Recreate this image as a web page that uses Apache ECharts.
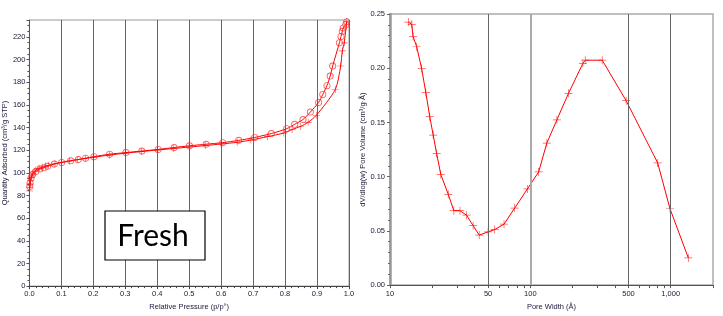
<!DOCTYPE html>
<html>
<head>
<meta charset="utf-8">
<script src="https://cdn.jsdelivr.net/npm/echarts@6/dist/echarts.min.js"></script>
<style>
  html, body { margin: 0; padding: 0; background: #fff; }
  #main { width: 723px; height: 316px; }
</style>
</head>
<body>
<div id="main"></div>
<script>
  // isotherm: [p/p0, quantity adsorbed]
  var adsorption = [
    [0.0005, 84], [0.001, 87], [0.002, 90], [0.004, 93.5], [0.006, 96], [0.008, 98],
    [0.01, 99.3], [0.015, 101.2], [0.02, 102.5], [0.03, 104], [0.04, 105], [0.05, 106],
    [0.06, 106.7], [0.08, 108], [0.1, 109.2], [0.125, 110.5], [0.15, 111.6], [0.175, 112.7],
    [0.2, 113.8], [0.25, 115.7], [0.3, 117.4], [0.35, 118.8], [0.4, 120.2], [0.45, 121.5],
    [0.5, 122.8], [0.55, 124.1], [0.6, 125.5], [0.65, 127], [0.693, 129], [0.745, 132],
    [0.796, 135.2], [0.822, 138.3], [0.848, 141], [0.872, 144.6], [0.898, 150.9],
    [0.957, 173.6], [0.974, 194.4], [0.979, 207.7], [0.985, 214.8], [0.993, 233.5]
  ];
  var desorption = [
    [0.993, 233.5], [0.99, 231], [0.982, 228], [0.979, 225], [0.975, 220.5], [0.97, 215],
    [0.949, 194.4], [0.941, 185.5], [0.931, 177], [0.918, 169.3], [0.905, 162.2],
    [0.879, 153.7], [0.856, 147.1], [0.83, 142.9], [0.805, 139], [0.757, 134.7],
    [0.705, 131.3], [0.655, 128.7], [0.605, 126.7], [0.553, 125.3], [0.501, 123.9],
    [0.453, 122.4], [0.403, 120.7], [0.352, 119.3], [0.302, 117.9], [0.251, 116.5],
    [0.202, 114.3], [0.176, 113], [0.153, 111.8], [0.129, 110.6], [0.101, 109.2],
    [0.078, 107.8], [0.057, 105.8], [0.046, 104.6], [0.033, 103.4], [0.02, 101.2],
    [0.01, 98.5], [0.005, 95.5], [0.002, 91], [0.001, 88]
  ];
  // pore size distribution: [pore width (A), dV/dlog(w)]
  var poreWidth = [13.5, 14.3, 14.6, 15.5, 16.8, 18.0, 19.2, 20.3, 21.5, 23.0, 26.0, 28.5,
    31.5, 35.1, 39.1, 43.2, 50, 55.7, 64.9, 77.3, 95.3, 114.6, 131, 154.5, 187, 236.6, 246,
    325, 481, 807, 988, 1334];
  var poreVolume = [0.2426, 0.2405, 0.2292, 0.2198, 0.1997, 0.1775, 0.1553, 0.1384, 0.1213,
    0.1021, 0.0837, 0.0686, 0.0686, 0.0645, 0.0548, 0.0461, 0.0491, 0.0512, 0.0562, 0.071,
    0.0887, 0.1044, 0.131, 0.1524, 0.1769, 0.2044, 0.2074, 0.2074, 0.1701, 0.1127, 0.0704,
    0.0251];
  var poreLabelTicks = [10, 50, 100, 500, 1000];
  var poreMinorTicks = [10, 20, 30, 40, 50, 60, 70, 80, 90, 100, 200, 300, 400, 500, 600,
    700, 800, 900, 1000, 2000];
  var poreGridThin = [50, 500, 1000];
  var poreGridThick = [100];

  var PLUS = 'path://M0,4.55H10V5.45H0ZM4.55,0H5.45V10H4.55Z';
  var RING = 'path://M5,0A5,5 0 1,1 4.99,0ZM5,1.3A3.7,3.7 0 1,0 5.01,1.3Z';
  var red = '#ff0000';
  var labelStyle = { color: '#1a1a3a', fontSize: 7.5, fontFamily: 'Liberation Sans' };
  var nameStyle = { color: '#1a1a3a', fontSize: 7.5, fontFamily: 'Liberation Sans' };

  var poreData = poreWidth.map(function (w, i) { return [w, poreVolume[i]]; });

  var myChart = echarts.init(document.getElementById('main'));
  var option = {
    backgroundColor: '#fff',
    animation: false,
    grid: [
      { left: 27, right: 374, top: 20, bottom: 21, show: true, borderColor: '#999', borderWidth: 1 },
      { left: 390, right: 10, top: 14, bottom: 20, show: true, borderColor: '#aaa', borderWidth: 1.5 }
    ],
    xAxis: [{
      gridIndex: 0,
      type: 'value',
      min: 0, max: 1, interval: 0.1,
      name: 'Relative Pressure (p/p°)',
      nameLocation: 'middle', nameGap: 11,
      nameTextStyle: nameStyle,
      axisLine: { lineStyle: { color: '#444', width: 1 } },
      axisTick: { length: 3, lineStyle: { color: '#444' } },
      minorTick: { show: true, splitNumber: 5, length: 2, lineStyle: { color: '#444' } },
      axisLabel: Object.assign({ margin: 4, formatter: function (v) { return v.toFixed(1); } }, labelStyle),
      splitLine: { show: true, lineStyle: { color: '#666', width: 1 } }
    }, {
      gridIndex: 1,
      type: 'log', logBase: 10,
      min: 10, max: 2000,
      name: 'Pore Width (Å)',
      nameLocation: 'middle', nameGap: 12,
      nameTextStyle: nameStyle,
      axisLine: { lineStyle: { color: '#555', width: 1 } },
      axisTick: { length: 3, customValues: poreMinorTicks, lineStyle: { color: '#555' } },
      axisLabel: Object.assign({
        margin: 5,
        customValues: poreLabelTicks,
        formatter: function (v) { return Math.round(v).toLocaleString('en-US'); }
      }, labelStyle),
      splitLine: { show: false }
    }],
    yAxis: [{
      gridIndex: 0,
      type: 'value',
      min: 0, max: 235, interval: 20,
      name: 'Quantity Adsorbed (cm³/g STP)',
      nameLocation: 'middle', nameGap: 18, nameRotate: 90,
      nameTextStyle: nameStyle,
      axisLine: { show: true, lineStyle: { color: '#555', width: 1 } },
      axisTick: { show: true, length: 3, lineStyle: { color: '#555' } },
      minorTick: { show: true, splitNumber: 4, length: 2, lineStyle: { color: '#555' } },
      axisLabel: Object.assign({ margin: 4, showMaxLabel: false }, labelStyle),
      splitLine: { show: false }
    }, {
      gridIndex: 1,
      type: 'value',
      min: 0, max: 0.25, interval: 0.05,
      name: 'dV/dlog(w) Pore Volume (cm³/g·Å)',
      nameLocation: 'middle', nameGap: 21, nameRotate: 90,
      nameTextStyle: nameStyle,
      axisLine: { show: true, lineStyle: { color: '#999', width: 2.5 } },
      axisTick: { show: true, length: 3, lineStyle: { color: '#666' } },
      minorTick: { show: true, splitNumber: 5, length: 2, lineStyle: { color: '#666' } },
      axisLabel: Object.assign({ margin: 5, formatter: function (v) { return v.toFixed(2); } }, labelStyle),
      splitLine: { show: false }
    }],
    series: [{
      name: 'Adsorption',
      type: 'line',
      xAxisIndex: 0, yAxisIndex: 0,
      data: adsorption,
      smooth: 0.25,
      symbol: PLUS, symbolSize: 7,
      lineStyle: { color: red, width: 1 },
      itemStyle: { color: 'rgba(255,0,0,0.7)' }
    }, {
      name: 'Desorption',
      type: 'line',
      xAxisIndex: 0, yAxisIndex: 0,
      data: desorption,
      smooth: 0.25,
      symbol: RING, symbolSize: 7,
      lineStyle: { color: red, width: 1 },
      itemStyle: { color: 'rgba(255,40,40,0.75)' }
    }, {
      name: 'Pore',
      type: 'line',
      xAxisIndex: 1, yAxisIndex: 1,
      data: poreData,
      symbol: PLUS, symbolSize: 8,
      lineStyle: { color: red, width: 1 },
      itemStyle: { color: 'rgba(255,0,0,0.7)' },
      z: 3,
      markLine: {
        silent: true, symbol: 'none', label: { show: false },
        data: poreGridThin.map(function (v) {
          return { xAxis: v, lineStyle: { color: '#666', width: 1, type: 'solid' } };
        }).concat(poreGridThick.map(function (v) {
          return { xAxis: v, lineStyle: { color: '#aaa', width: 2, type: 'solid' } };
        }))
      }
    }],
    graphic: [{
      type: 'rect',
      shape: { x: 105, y: 211, width: 100, height: 49 },
      style: { fill: '#fff', stroke: '#000', lineWidth: 1.2 },
      z: 10
    }, {
      type: 'text',
      x: 153, y: 236,
      style: {
        text: 'Fresh', fill: '#000', font: '30px Lato',
        textAlign: 'center', textVerticalAlign: 'middle'
      },
      z: 11
    }]
  };
  myChart.setOption(option);
  window.addEventListener('resize', myChart.resize);
</script>
</body>
</html>
